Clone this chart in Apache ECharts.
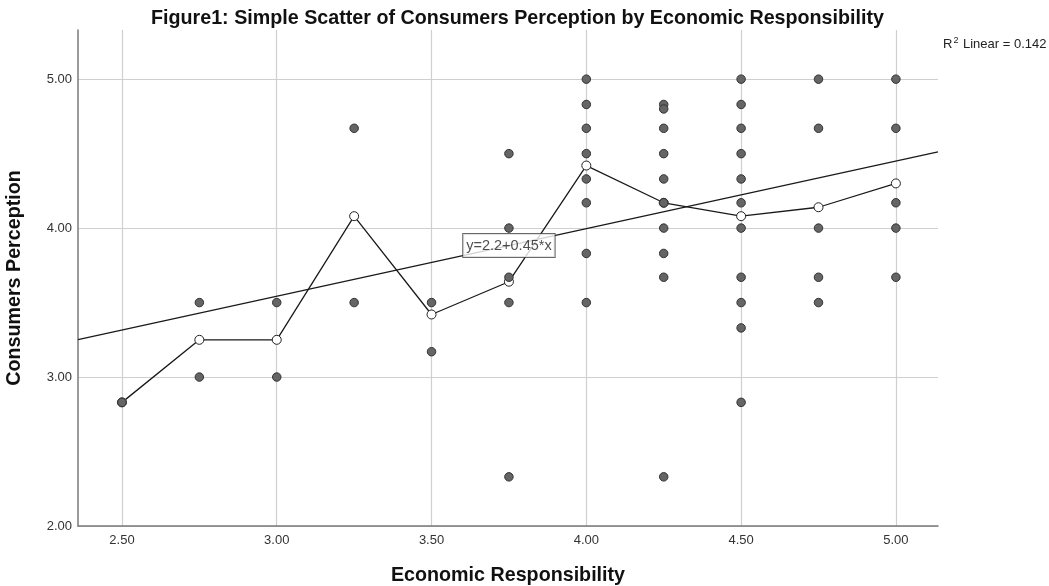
<!DOCTYPE html>
<html>
<head>
<meta charset="utf-8">
<script src="https://cdn.jsdelivr.net/npm/echarts@6/dist/echarts.min.js"></script>
<style>
html,body{margin:0;padding:0;background:#fff;}
#chart{width:1049px;height:586px;}
</style>
</head>
<body>
<div id="chart"></div>
<script>
// Economic Responsibility (x) and Consumers Perception (y) for each visible point
const econX = [
  2.50,
  2.75, 2.75,
  3.00, 3.00,
  3.25, 3.25,
  3.50, 3.50,
  3.75, 3.75, 3.75, 3.75, 3.75,
  4.00, 4.00, 4.00, 4.00, 4.00, 4.00, 4.00, 4.00,
  4.25, 4.25, 4.25, 4.25, 4.25, 4.25, 4.25, 4.25, 4.25, 4.25,
  4.50, 4.50, 4.50, 4.50, 4.50, 4.50, 4.50, 4.50, 4.50, 4.50, 4.50,
  4.75, 4.75, 4.75, 4.75, 4.75,
  5.00, 5.00, 5.00, 5.00, 5.00
];
const consY = [
  2.83,
  3.50, 3.00,
  3.50, 3.00,
  4.67, 3.50,
  3.50, 3.17,
  4.50, 4.00, 3.67, 3.50, 2.33,
  5.00, 4.83, 4.67, 4.50, 4.33, 4.17, 3.83, 3.50,
  4.83, 4.80, 4.67, 4.50, 4.33, 4.17, 4.00, 3.83, 3.67, 2.33,
  5.00, 4.83, 4.67, 4.50, 4.33, 4.17, 4.00, 3.67, 3.50, 3.33, 2.83,
  5.00, 4.67, 4.00, 3.67, 3.50,
  5.00, 4.67, 4.17, 4.00, 3.67
];
// subgroup means (interpolation line)
const meanX = [2.50, 2.75, 3.00, 3.25, 3.50, 3.75, 4.00, 4.25, 4.50, 4.75, 5.00];
const meanY = [2.83, 3.25, 3.25, 4.08, 3.42, 3.64, 4.42, 4.17, 4.08, 4.14, 4.30];
// linear fit
const fitIntercept = 2.18;
const fitSlope = 0.454;
const fitLabel = 'y=2.2+0.45*x';
const fitLabelX = 3.75;
const r2Text = '0.142';
// axes
const xTicks = [2.50, 3.00, 3.50, 4.00, 4.50, 5.00];
const yTicks = [2.00, 3.00, 4.00, 5.00];
const xMin = 2.358, xMax = 5.136;
const yMin = 2.0, yMax = 5.33;

const FONT = '"Liberation Sans", Arial, sans-serif';
const fit = x => fitIntercept + fitSlope * x;

const chart = echarts.init(document.getElementById('chart'));
chart.setOption({
  animation: false,
  backgroundColor: '#fff',
  textStyle: { fontFamily: FONT },
  title: [
    {
      text: 'Figure1: Simple Scatter of Consumers Perception by Economic Responsibility',
      left: 146, top: 4,
      textStyle: { fontFamily: FONT, fontSize: 19.7, fontWeight: 'bold', color: '#111' }
    },
    {
      text: 'R{sup|2} Linear = ' + r2Text,
      left: 938, top: 31,
      textStyle: {
        fontFamily: FONT, fontSize: 13, lineHeight: 16, fontWeight: 'normal', color: '#222',
        rich: { sup: { fontSize: 9, lineHeight: 9, fontFamily: FONT, color: '#222', verticalAlign: 'top', padding: [0, 1, 0, 1] } }
      }
    }
  ],
  grid: { left: 78, right: 111, top: 30, bottom: 60, containLabel: false, outerBoundsMode: 'none' },
  xAxis: {
    type: 'value', min: xMin, max: xMax,
    name: 'Economic Responsibility', nameLocation: 'middle', nameGap: 40,
    nameTextStyle: { fontFamily: FONT, fontSize: 19.7, fontWeight: 'bold', color: '#111' },
    axisLine: { show: true, lineStyle: { color: '#7a7a7a', width: 1.5 } },
    axisTick: { show: false, customValues: xTicks },
    axisLabel: { customValues: xTicks, formatter: v => v.toFixed(2), fontSize: 13, color: '#333', margin: 8, fontFamily: FONT },
    splitLine: { show: true, lineStyle: { color: '#cfcfcf', width: 1.2 } }
  },
  yAxis: {
    type: 'value', min: yMin, max: yMax,
    name: 'Consumers Perception', nameLocation: 'middle', nameGap: 53, nameRotate: 90,
    nameTextStyle: { fontFamily: FONT, fontSize: 19.7, fontWeight: 'bold', color: '#111' },
    axisLine: { show: true, lineStyle: { color: '#7a7a7a', width: 1.5 } },
    axisTick: { show: false, customValues: yTicks },
    axisLabel: { customValues: yTicks, formatter: v => v.toFixed(2), fontSize: 13, color: '#333', margin: 6, fontFamily: FONT },
    splitLine: { show: true, lineStyle: { color: '#cfcfcf', width: 1.2 } }
  },
  series: [
    {
      type: 'line', name: 'fit', z: 2, silent: true,
      data: [[xMin, fit(xMin)], [xMax, fit(xMax)]],
      symbol: 'none', lineStyle: { color: '#1a1a1a', width: 1.3 }
    },
    {
      type: 'line', name: 'means', z: 3, silent: true,
      data: meanX.map((x, i) => [x, meanY[i]]),
      symbol: 'circle', symbolSize: 9,
      itemStyle: { color: '#fff', borderColor: '#222', borderWidth: 1 },
      lineStyle: { color: '#1a1a1a', width: 1.3 }
    },
    {
      type: 'scatter', name: 'points', z: 4, silent: true,
      data: econX.map((x, i) => [x, consY[i]]),
      symbolSize: 8.5,
      itemStyle: { color: '#656565', borderColor: '#333', borderWidth: 1, opacity: 1 }
    },
    {
      type: 'scatter', name: 'fitLabel', z: 6, silent: true,
      data: [[fitLabelX, fit(fitLabelX)]],
      symbolSize: 1, itemStyle: { color: 'rgba(0,0,0,0)' },
      label: {
        show: true, position: 'inside', formatter: fitLabel,
        fontFamily: FONT, fontSize: 14.5, color: '#222',
        backgroundColor: '#fff', borderColor: '#444', borderWidth: 1, padding: [4, 3, 4, 3]
      }
    }
  ]
});
</script>
</body>
</html>
